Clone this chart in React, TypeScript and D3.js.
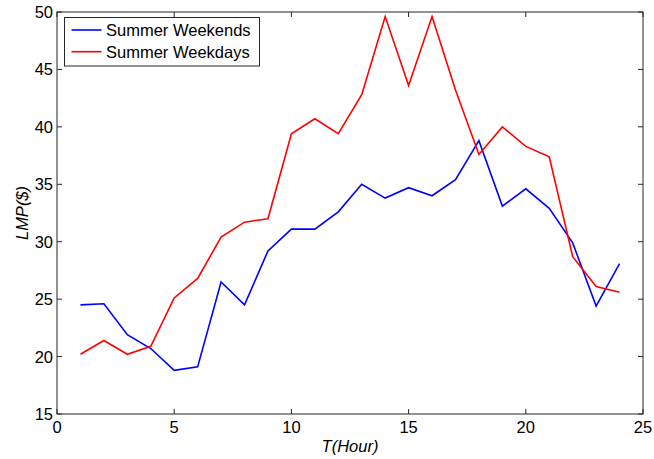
import React from "react";
import * as d3 from "d3";

const hours = [1, 2, 3, 4, 5, 6, 7, 8, 9, 10, 11, 12, 13, 14, 15, 16, 17, 18, 19, 20, 21, 22, 23, 24];
const weekends = [24.5, 24.6, 21.9, 20.7, 18.8, 19.1, 26.5, 24.5, 29.2, 31.1, 31.1, 32.6, 35.0, 33.8, 34.7, 34.0, 35.4, 38.8, 33.1, 34.6, 32.9, 29.9, 24.4, 28.1];
const weekdays = [20.2, 21.4, 20.2, 20.9, 25.1, 26.8, 30.4, 31.7, 32.0, 39.4, 40.7, 39.4, 42.8, 49.6, 43.6, 49.6, 43.2, 37.6, 40.0, 38.3, 37.4, 28.7, 26.1, 25.6];
const xTicks = [0, 5, 10, 15, 20, 25];
const yTicks = [15, 20, 25, 30, 35, 40, 45, 50];

const series = [
  { name: "Summer Weekends", values: weekends, color: "#0000ff" },
  { name: "Summer Weekdays", values: weekdays, color: "#ff0000" },
];

const width = 654;
const height = 459;
const margin = { top: 12, right: 11, bottom: 45, left: 57 };
const font = "'Liberation Sans', Arial, sans-serif";
const fs = 16.5;

export default function App() {
  const x = d3.scaleLinear().domain([0, 25]).range([margin.left, width - margin.right]);
  const y = d3.scaleLinear().domain([15, 50]).range([height - margin.bottom, margin.top]);
  const x0 = x(0), x1 = x(25), y0 = y(15), y1 = y(50);
  const tick = 5;

  const line = d3
    .line<number>()
    .x((_, i) => x(hours[i]))
    .y((d) => y(d));

  return (
    <svg
      width={width}
      height={height}
      style={{ position: "absolute", left: 0, top: 0, background: "#fff" }}
      fontFamily={font}
    >
      {/* ticks on all sides, inward */}
      {xTicks.map((t) => (
        <g key={`xt-${t}`}>
          <line x1={x(t)} x2={x(t)} y1={y0} y2={y0 - tick} stroke="#262626" />
          <line x1={x(t)} x2={x(t)} y1={y1} y2={y1 + tick} stroke="#262626" />
          <text x={x(t)} y={y0 + 19} fontSize={fs} textAnchor="middle" fill="#000">
            {t}
          </text>
        </g>
      ))}
      {yTicks.map((t) => (
        <g key={`yt-${t}`}>
          <line x1={x0} x2={x0 + tick} y1={y(t)} y2={y(t)} stroke="#262626" />
          <line x1={x1} x2={x1 - tick} y1={y(t)} y2={y(t)} stroke="#262626" />
          <text x={x0 - 4} y={y(t) + 6} fontSize={fs} textAnchor="end" fill="#000">
            {t}
          </text>
        </g>
      ))}

      {series.map((s) => (
        <path key={s.name} d={line(s.values) ?? ""} fill="none" stroke={s.color} strokeWidth={1.6} />
      ))}

      <rect x={x0} y={y1} width={x1 - x0} height={y0 - y1} fill="none" stroke="#262626" strokeWidth={1} />

      {/* legend */}
      <rect x={64.5} y={17.5} width={195} height={48.5} fill="#fff" stroke="#262626" strokeWidth={1} />
      {series.map((s, i) => (
        <g key={`lg-${s.name}`}>
          <line x1={71.5} x2={101.5} y1={30 + i * 21.7} y2={30 + i * 21.7} stroke={s.color} strokeWidth={1.6} />
          <text x={106} y={36 + i * 21.7} fontSize={fs} fill="#000">
            {s.name}
          </text>
        </g>
      ))}

      <text x={(x0 + x1) / 2} y={452} fontSize={fs} fontStyle="italic" textAnchor="middle" fill="#000">
        T(Hour)
      </text>
      <text
        transform={`translate(27.5,${(y0 + y1) / 2}) rotate(-90)`}
        fontSize={fs}
        fontStyle="italic"
        textAnchor="middle"
        fill="#000"
      >
        LMP($)
      </text>
    </svg>
  );
}
